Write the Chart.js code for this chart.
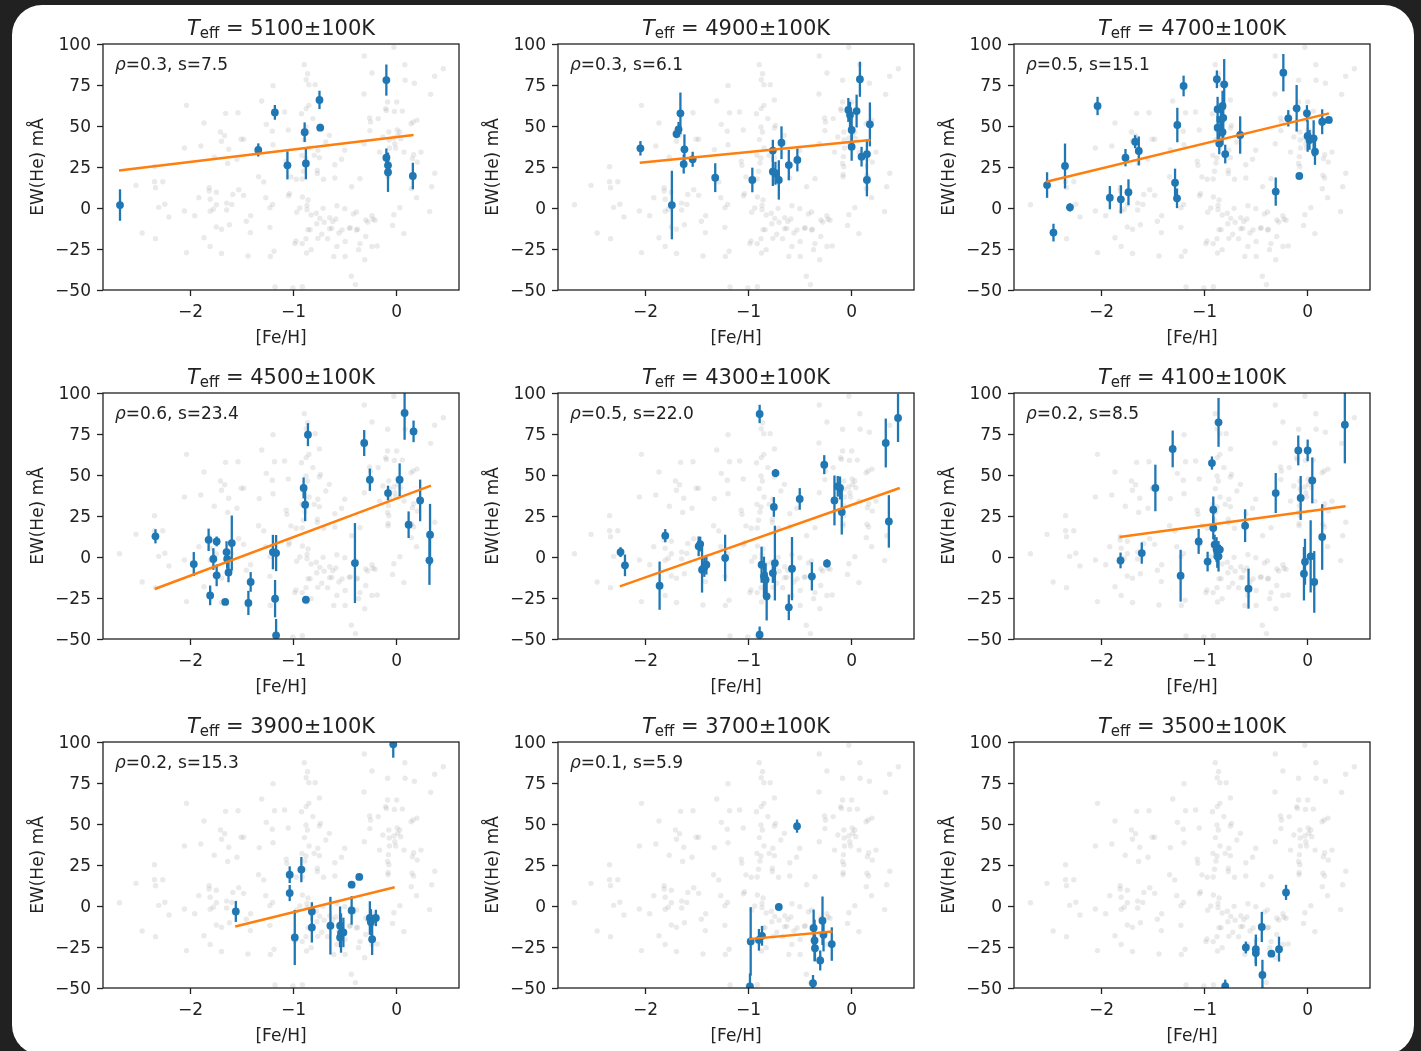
<!DOCTYPE html>
<html>
<head>
<meta charset="utf-8">
<script src="https://cdn.jsdelivr.net/npm/chart.js@4.4.1/dist/chart.umd.min.js"></script>
<style>
  html, body { margin: 0; padding: 0; width: 1421px; height: 1051px; overflow: hidden; background: #212121; }
  #sheet { position: absolute; left: 12px; top: 5px; width: 1402px; height: 1050px; background: #fff; border-radius: 30px; }
  canvas.panel { position: absolute; }
</style>
</head>
<body>
<div id="sheet"></div>
<script>
/* ── Data: field sample (grey, same in every panel) ── */
const fieldStars = [
  [-2.04,62.6],[-1.87,51.8],[-1.71,46.3],[-1.70,40.7],[-2.06,36.6],[-1.90,37.8],[-1.77,30.9],[-2.35,25.2],
  [-2.53,13.8],[-2.35,16.0],[-2.27,16.0],[-2.34,12.4],[-2.69,2.0],[-2.31,0.4],[-2.25,2.3],[-2.21,-5.5],
  [-2.47,-15.2],[-2.34,-18.7],[-2.04,-27.2],[-2.06,-1.8],[-1.96,-4.7],[-1.92,6.3],[-1.82,12.4],[-1.82,10.4],
  [-1.75,9.6],[-1.81,5.3],[-1.75,2.0],[-1.78,-0.8],[-1.81,-2.0],[-1.75,-11.6],[-1.70,-13.0],[-1.87,-18.1],
  [-1.81,-23.4],[-1.70,-27.7],
  [-0.897,87.4],[-0.865,81.9],[-0.878,78.2],[-0.852,75.2],[-0.791,75.2],[-1.20,74.6],[-0.75,65.9],[-1.31,65.2],
  [-0.852,62.6],[-0.878,60.6],[-0.924,57.5],[-1.088,58.5],[-1.185,58.1],[-1.54,58.1],[-1.66,57.7],[-0.813,54.5],
  [-1.265,51.0],[-0.74,50.4],[-0.75,48.8],[-0.88,49.4],[-1.207,46.8],[-1.052,47.6],[-0.866,46.3],[-0.653,44.3],
  [-1.67,44.1],[-1.51,41.9],[-1.485,41.9],[-0.895,41.7],[-0.688,40.2],[-1.20,38.6],[-0.85,36.6],[-1.63,35.8],
  [-1.333,35.6],[-0.765,35.2],[-0.80,32.1],[-0.92,32.1],[-0.88,30.5],[-1.55,29.7],[-0.75,30.7],[-1.64,27.2],
  [-0.60,26.4],[-1.072,28.5],[-1.065,26.0],[-0.89,27.4],[-0.904,22.4],[-0.77,23.0],[-0.77,21.0],[-1.34,19.1],
  [-1.29,15.9],[-1.026,19.0],[-0.975,17.5],[-0.917,17.7],[-0.71,17.5],[-0.60,18.3],[-1.533,11.2],[-1.59,8.3],
  [-1.485,7.7],[-1.04,8.7],[-1.05,7.5],[-0.915,6.7],[-1.65,3.0],[-1.60,2.2],[-0.86,4.9],[-1.27,6.3],
  [-1.204,2.2],[-1.65,-1.2],[-0.87,1.6],[-0.94,0.0],[-1.23,0.2],[-0.97,-2.6],[-0.87,-1.0],[-0.714,-0.2],
  [-0.78,-3.2],[-0.83,-4.3],[-1.417,-4.7],[-1.459,-8.1],[-1.623,-10.2],[-0.746,-6.3],[-0.704,-8.7],[-0.649,-5.9],
  [-0.62,-8.3],[-0.59,-6.7],[-0.58,1.4],[-0.775,-9.6],[-0.65,-12.6],[-0.86,-13.2],[-0.84,-13.2],[-1.23,-11.8],
  [-1.42,-15.0],[-0.727,-16.0],[-0.765,-18.5],[-0.67,-18.7],[-0.977,-20.1],[-0.88,-18.7],[-0.988,-21.7],[-0.917,-21.7],
  [-0.83,-25.4],[-0.875,-27.4],[-1.19,-26.4],[-1.226,-29.5],[-1.443,-29.3],[-1.18,-48.2],[-1.007,-48.8],[-0.915,-48.0],
  [-0.027,98.0],[-0.314,92.7],[0.079,87.4],[-0.24,82.3],[0.453,84.9],[0.369,80.3],[-0.088,77.9],[0.082,77.9],
  [0.172,76.1],[-0.317,69.5],[0.33,69.3],[-0.088,64.6],[0.0,64.6],[-0.107,60.6],[-0.10,59.5],[-0.022,58.9],
  [0.055,59.1],[-0.179,54.5],[-0.263,54.9],[-0.254,52.4],[0.197,53.6],[0.16,52.4],[0.14,51.4],[-0.26,47.2],
  [-0.076,46.3],[0.005,47.6],[0.03,46.3],[0.01,44.3],[0.04,42.3],[-0.027,42.7],[-0.073,41.5],[-0.134,43.3],
  [-0.314,39.2],[-0.018,39.2],[-0.01,36.6],[-0.07,36.6],[-0.166,34.1],[-0.08,31.3],[0.072,34.1],[0.165,32.5],
  [0.236,34.1],[0.153,30.1],[-0.504,35.2],[-0.535,29.7],[-0.088,27.2],[0.2,28.0],[-0.076,25.2],[-0.083,20.4],
  [-0.083,19.0],[0.148,20.0],[0.164,18.3],[0.37,21.2],[-0.356,17.9],[-0.437,13.0],[0.142,11.8],[0.34,13.0],
  [0.193,6.3],[0.031,0.2],[0.32,-2.2],[-0.027,-4.1],[-0.24,-4.7],[-0.21,-7.5],[-0.281,-8.5],[-0.503,-0.4],
  [-0.42,-3.6],[-0.39,-2.4],[-0.04,-10.6],[0.07,-15.6],[-0.38,-13.0],[-0.356,-21.7],[-0.189,-23.2],
  [-0.63,-12.4],[-0.46,-12.4],[-0.45,-12.0],[-0.39,-13.4],[-0.30,-7.3],[-0.23,-6.9],[-0.30,-17.4],[-0.50,-20.4],
  [-0.58,-23.4],[-0.50,-29.5],[-0.31,-31.5],[-0.44,-41.6],[-0.40,-46.7],[-0.61,-29.5],[-0.56,-15.2],[-0.24,-23.4],
  [-0.37,-25.4],[-0.53,-13.4]
];

/* ── Data: binned stars, [Fe/H], EW(He) and error ── */
const temps  = [5100, 4900, 4700, 4500, 4300, 4100, 3900, 3700, 3500];
const rhos   = ['0.3', '0.3', '0.5', '0.6', '0.5', '0.2', '0.2', '0.1', null];
const slopes = ['7.5', '6.1', '15.1', '23.4', '22.0', '8.5', '15.3', '5.9', null];

const feh5100 = [-2.685,-1.343,-1.182,-1.06,-0.893,-0.881,-0.749,-0.742,-0.1,-0.1,-0.084,-0.084,0.157];
const ew5100  = [1.8,35.4,58.3,26.0,46.2,27.2,65.9,49.0,78.0,30.7,26.0,21.8,19.5];
const err5100 = [9.6,4,4.5,8.6,6.0,9.7,5.6,1,9.5,5.6,6,12,8.1];
const fitFeh5100 = [-2.695, 0.164], fitEw5100 = [22.8, 44.5];

const feh4900 = [-2.05,-1.745,-1.70,-1.68,-1.662,-1.623,-1.63,-1.543,-1.324,-0.964,-0.765,-0.765,-0.74,-0.707,
                 -0.681,-0.61,-0.527,-0.032,-0.016,0,0,0.048,0.08,0.096,0.148,0.148,0.177];
const ew4900  = [36.4,1.8,45.1,48.0,57.7,35.8,26.8,29.7,18.5,17.1,35.0,22.2,21.2,17.1,
                 39.8,26.2,29.3,59.8,56.7,47.6,37.4,59.1,78.5,31.3,32.9,17.1,51.0];
const err4900 = [4.4,20.9,2.5,4.5,12.7,9.1,5.8,4.6,8.8,7.5,6.6,8.8,7,12,
                 10,9.3,7,7.3,8,11,8.6,10,10.7,6,9,10,13.4];
const fitFeh4900 = [-2.057, 0.183], fitEw4900 = [27.6, 41.5];

const feh4700 = [-2.529,-2.467,-2.355,-2.307,-2.039,-1.92,-1.813,-1.768,-1.739,-1.674,-1.639,-1.287,-1.268,
                 -1.265,-1.204,-0.881,-0.874,-0.874,-0.858,-0.842,-0.826,-0.826,-0.819,-0.81,-0.8,-0.655,
                 -0.31,-0.236,-0.188,-0.107,-0.081,-0.007,0,0.018,0.058,0.071,0.141,0.206];
const ew4700  = [14.0,-15.0,25.6,0.4,62.2,6.3,5.3,30.7,9.6,40.4,34.8,15.4,5.9,
                 50.6,74.4,78.5,60.2,49.0,39.4,53.7,62.2,46.3,55.0,75.4,32.9,44.5,
                 10.0,82.5,54.7,60.8,19.5,57.7,43.9,41.5,42.5,34.3,52.6,53.7];
const err4700 = [7.8,5.4,13.7,2.5,5.6,7.1,8.6,5.3,7.9,4,8.8,8.6,6,
                 10.5,6.3,5.4,7.6,7,6.6,10,9.3,8,12,15.4,5.7,11.4,
                 8.6,11.4,5,14.2,1,5,9.6,6,11,8,7.6,2];
const fitFeh4700 = [-2.535, 0.206], fitEw4700 = [16.0, 57.7];

const feh4500 = [-2.341,-1.969,-1.825,-1.81,-1.779,-1.747,-1.747,-1.664,-1.651,-1.645,-1.632,-1.6,-1.439,
                 -1.417,-1.201,-1.17,-1.18,-1.17,-0.903,-0.888,-0.881,-0.861,-0.405,-0.315,-0.26,-0.084,
                 0.029,0.077,0.116,0.164,0.228,0.324,0.318];
const ew4500  = [12.6,-4.3,10.5,-23.4,-1.2,9.5,-11.2,-27.4,3.0,-1.2,-9.4,8.5,-28.0,
                 -15.2,3.0,2.4,-25.4,-47.8,42.1,31.9,-26.0,74.6,-3.7,69.5,47.1,39.0,
                 47.1,87.8,19.7,76.6,34.5,13.6,-2.0];
const err4500 = [4.3,7.3,6.8,6,6.6,3,6.6,1.5,6.6,6,6,16.8,7.4,
                 6,10.5,11,11.4,10,6.4,10,2.2,7,24.4,7.9,6.8,4.5,
                 10,16.3,8.1,6.6,12.7,18.8,15];
const fitFeh4500 = [-2.348, 0.333], fitEw4500 = [-19.5, 43.5];

const feh4300 = [-2.243,-2.2,-1.864,-1.809,-1.485,-1.47,-1.452,-1.43,-1.41,-1.228,-0.893,-0.893,-0.874,
                 -0.851,-0.835,-0.825,-0.765,-0.755,-0.745,-0.739,-0.61,-0.579,-0.504,-0.386,-0.266,-0.24,
                 -0.167,-0.135,-0.113,-0.096,0.331,0.361,0.45];
const ew4300  = [3.0,-5.1,-17.5,13.0,6.5,7.9,-7.7,-6.1,-4.7,-0.6,87.2,-47.4,-4.7,
                 -11.8,-13.8,-24.0,-9.8,30.5,-3.7,51.2,-30.7,-7.1,35.4,-11.8,56.3,-3.9,
                 34.5,43.1,42.1,27.4,69.5,21.7,84.8];
const err4300 = [3,6.6,14.7,4,6,4.5,14,6,6,14.2,5.6,5,11,
                 12,10,14.7,6,6,22.8,2.5,7.8,19.3,6.6,8.6,5.8,2.5,
                 15.2,6.3,7,13.7,14.9,16,14.7];
const fitFeh4300 = [-2.25, 0.467], fitEw4300 = [-17.9, 42.1];

const feh4100 = [-1.816,-1.61,-1.478,-1.31,-1.233,-1.058,-0.971,-0.929,-0.916,-0.916,-0.903,-0.884,-0.877,
                 -0.865,-0.865,-0.852,-0.607,-0.574,-0.31,-0.091,-0.068,-0.036,-0.026,0,0.029,0.045,
                 0.064,0.141,0.361];
const ew4100  = [-2.1,2.4,42.1,65.9,-11.4,9.5,-2.8,57.3,28.8,17.7,7.6,4.5,0.4,
                 82.1,0.4,4.5,19.1,-19.3,39.0,65.0,36.0,-10.2,-2.9,65.0,0.4,46.7,
                 -15.2,12.2,80.7];
const err4100 = [4.8,6.5,14.2,11.2,15.8,7.6,6,4,8.1,7,6,7.6,7,
                 14.9,9.3,3,10,12.2,12.2,9.1,13.4,16.3,14,6.6,22,14,
                 18.8,20,23.6];
const fitFeh4100 = [-1.826, 0.368], fitEw4100 = [12.2, 30.9];

const feh3900 = [-1.561,-1.038,-1.038,-0.989,-0.925,-0.823,-0.823,-0.643,-0.549,-0.54,
                 -0.517,-0.549,-0.437,-0.437,-0.363,-0.26,-0.25,-0.238,-0.202,-0.033];
const ew3900  = [-3.3,19.1,7.9,-19.2,22.2,-3.3,-13.1,-12.0,-12.0,-16.5,
                 -16.1,-19.2,13.0,-2.7,17.7,-7.3,-9.9,-20.2,-7.3,98.6];
const err3900 = [6.4,5.1,4.9,16.8,7.7,5.6,9.2,17.6,11.7,12,
                 9,6,1,8.7,1,10.2,8,9.7,5,8.2];
const fitFeh3900 = [-1.567, -0.019], fitEw3900 = [-12.5, 11.4];

const feh3700 = [-0.98,-0.987,-0.9,-0.87,-0.707,-0.53,-0.369,-0.36,-0.375,-0.356,-0.305,-0.283,-0.273,-0.193];
const ew3700  = [-21.6,-49.1,-20.6,-18.2,-0.6,48.7,-13.4,-21.0,-47.1,-25.7,-33.2,-9.0,-17.5,-23.2];
const err3700 = [20.9,8,6.6,6,1,4,11.2,12.7,5,8,6.1,14.8,10.2,10.2];
const fitFeh3700 = [-0.996, -0.186], fitEw3700 = [-20.2, -15.5];

const feh3500 = [-0.8,-0.6,-0.503,-0.503,-0.445,-0.439,-0.352,-0.278,-0.21];
const ew3500  = [-48.9,-25.3,-26.3,-28.7,-12.8,-42.0,-29.1,-26.3,8.3];
const err3500 = [4,3.6,8.9,8,9.2,9.2,1,7.6,4.6];

const xTicks = [-2, -1, 0];
const yTicks = [-50, -25, 0, 25, 50, 75, 100];

const panels = [
  [feh5100, ew5100, err5100, fitFeh5100, fitEw5100],
  [feh4900, ew4900, err4900, fitFeh4900, fitEw4900],
  [feh4700, ew4700, err4700, fitFeh4700, fitEw4700],
  [feh4500, ew4500, err4500, fitFeh4500, fitEw4500],
  [feh4300, ew4300, err4300, fitFeh4300, fitEw4300],
  [feh4100, ew4100, err4100, fitFeh4100, fitEw4100],
  [feh3900, ew3900, err3900, fitFeh3900, fitEw3900],
  [feh3700, ew3700, err3700, fitFeh3700, fitEw3700],
  [feh3500, ew3500, err3500, null, null],
];

/* ── Layout & style ── */
const INK = '#222', BLUE = '#1f77b4', ORANGE = '#ff7f0e';
const FAM = '"DejaVu Sans", sans-serif';
const plotLeft = [103, 558, 1014];
const plotTop  = [44, 393, 742];
const GUT_L = 95, GUT_T = 44, GUT_B = 62, PLOT_W = 358, PLOT_H = 246, GUT_R = 2;

Chart.defaults.font.family = FAM;
Chart.defaults.font.size = 17;
Chart.defaults.color = INK;

const minus = v => String(v).replace('-', '\u2212');

/* ── Plugin: error bars, frame, title, stats text ── */
const deco = {
  id: 'deco',
  afterDatasetDraw(chart, args, o) {
    if (args.index !== 0) return;           // right after the grey field stars
    const { ctx, chartArea: a, scales: { x, y } } = chart;
    ctx.save();
    ctx.beginPath();
    ctx.rect(a.left, a.top, a.right - a.left, a.bottom - a.top);
    ctx.clip();
    ctx.strokeStyle = BLUE;
    ctx.lineWidth = 2.3;
    o.feh.forEach((f, i) => {
      const px = x.getPixelForValue(f);
      ctx.beginPath();
      ctx.moveTo(px, y.getPixelForValue(o.ew[i] + o.err[i]));
      ctx.lineTo(px, y.getPixelForValue(o.ew[i] - o.err[i]));
      ctx.stroke();
    });
    ctx.restore();
  },
  afterDraw(chart, args, o) {
    const { ctx, chartArea: a } = chart;
    ctx.save();
    ctx.strokeStyle = INK;
    ctx.lineWidth = 1.3;
    ctx.strokeRect(a.left, a.top, a.right - a.left, a.bottom - a.top);

    // title: T_eff = NNNN±100K
    const rest = ' = ' + o.temp + '±100K';
    ctx.font = 'italic 21px ' + FAM;  const wT = ctx.measureText('T').width;
    ctx.font = '15px ' + FAM;         const wS = ctx.measureText('eff').width;
    ctx.font = '21px ' + FAM;         const wR = ctx.measureText(rest).width;
    let tx = (a.left + a.right) / 2 - (wT + wS + wR) / 2;
    const base = a.top - 9;
    ctx.fillStyle = INK;
    ctx.textAlign = 'left';
    ctx.textBaseline = 'alphabetic';
    ctx.font = 'italic 21px ' + FAM; ctx.fillText('T', tx, base); tx += wT;
    ctx.font = '15px ' + FAM;        ctx.fillText('eff', tx, base + 3); tx += wS;
    ctx.font = '21px ' + FAM;        ctx.fillText(rest, tx, base);

    // rho / slope label
    if (o.rho) {
      let sx = a.left + 12;
      const sy = a.top + 25.5;
      ctx.font = 'italic 17px ' + FAM; ctx.fillText('ρ', sx, sy); sx += ctx.measureText('ρ').width;
      ctx.font = '17px ' + FAM;        ctx.fillText('=' + o.rho + ', s=' + o.s, sx, sy);
    }
    ctx.restore();
  }
};

panels.forEach(([feh, ew, err, fitFeh, fitEw], k) => {
  const r = Math.floor(k / 3), c = k % 3;
  const cv = document.createElement('canvas');
  cv.className = 'panel';
  cv.width = GUT_L + PLOT_W + GUT_R;
  cv.height = GUT_T + PLOT_H + GUT_B;
  cv.style.left = (plotLeft[c] - GUT_L) + 'px';
  cv.style.top = (plotTop[r] - GUT_T) + 'px';
  document.body.appendChild(cv);

  const datasets = [
    {
      data: fieldStars.map(([fx, fy]) => ({ x: fx, y: fy })),
      pointRadius: 2.7, borderWidth: 0,
      backgroundColor: 'rgba(128,128,128,0.17)', order: 3, clip: 0,
    },
    {
      data: feh.map((f, i) => ({ x: f, y: ew[i] })),
      pointRadius: 3.9, borderWidth: 0,
      backgroundColor: BLUE, order: 2, clip: 0,
    },
  ];
  if (fitFeh) {
    datasets.push({
      data: fitFeh.map((f, i) => ({ x: f, y: fitEw[i] })),
      showLine: true, pointRadius: 0, borderColor: ORANGE, borderWidth: 2.5,
      order: 1, clip: 0,
    });
  }

  new Chart(cv, {
    type: 'scatter',
    data: { datasets },
    options: {
      responsive: false, animation: false, events: [],
      layout: { padding: { top: GUT_T, right: GUT_R, left: 0, bottom: 0 } },
      plugins: {
        legend: { display: false }, tooltip: { enabled: false },
        deco: { feh, ew, err, temp: temps[k], rho: rhos[k], s: slopes[k] },
      },
      scales: {
        x: {
          type: 'linear', min: -2.85, max: 0.605,
          afterFit: s => { s.height = GUT_B; },
          afterBuildTicks: s => { s.ticks = xTicks.map(v => ({ value: v })); },
          ticks: { callback: minus, padding: 6, color: INK, includeBounds: false },
          grid: { drawOnChartArea: false, drawTicks: true, tickLength: 6, tickColor: INK, tickWidth: 1.3 },
          border: { display: false },
          title: { display: true, text: '[Fe/H]', color: INK, font: { size: 17 }, padding: { top: 0, bottom: 3 } },
        },
        y: {
          type: 'linear', min: -50, max: 100,
          afterFit: s => { s.width = GUT_L; },
          afterBuildTicks: s => { s.ticks = yTicks.map(v => ({ value: v })); },
          ticks: { callback: minus, padding: 6, color: INK, labelOffset: 2 },
          grid: { drawOnChartArea: false, drawTicks: true, tickLength: 6, tickColor: INK, tickWidth: 1.3 },
          border: { display: false },
          title: { display: true, text: 'EW(He) mÅ', color: INK, font: { size: 17 }, padding: { top: 20, bottom: 0 } },
        },
      },
    },
    plugins: [deco],
  });
});
</script>
</body>
</html>
